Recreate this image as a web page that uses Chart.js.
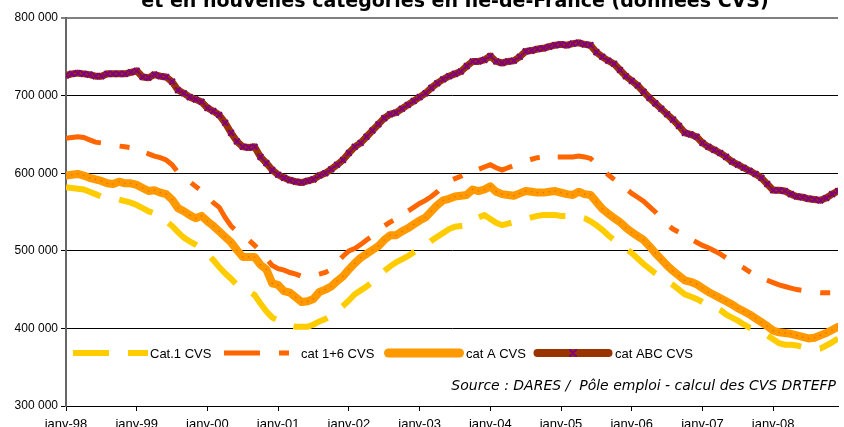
<!DOCTYPE html>
<html lang="fr">
<head>
<meta charset="utf-8">
<title>Demandeurs d'emploi en Ile-de-France</title>
<script src="https://cdn.jsdelivr.net/npm/chart.js@4.4.1/dist/chart.umd.min.js"></script>
<style>
  html, body { margin: 0; padding: 0; background: #fff; overflow: hidden; }
  canvas { display: block; }
</style>
</head>
<body>
<canvas id="myChart" width="844" height="427"></canvas>
<script>
// libellés de l'axe des x (un par an) et de l'axe des y
var anneesLabels = ['janv-98', 'janv-99', 'janv-00', 'janv-01', 'janv-02', 'janv-03',
                    'janv-04', 'janv-05', 'janv-06', 'janv-07', 'janv-08'];
var yLabels = ['300 000', '400 000', '500 000', '600 000', '700 000', '800 000'];
var nomsSeries = ['Cat.1 CVS', 'cat 1+6 CVS', 'cat A CVS', 'cat ABC CVS'];

// valeurs mensuelles en milliers, de janv-98 à déc-08
var cat1 = [
  582,581,580,579,576,573,570,568,567,566,564,562,
  559,555,551,548,543,538,532,524,517,512,508,503,
  496,488,479,471,464,456,452,448,443,432,422,414,
  410,406,404,402,402,402,405,409,412,416,423,429,
  436,444,449,454,460,467,474,480,485,489,493,498,
  502,507,513,518,523,528,531,532,533,538,543,546,
  541,536,533,535,537,539,541,543,545,546,546,546,
  545,545,546,544,542,538,533,527,520,514,508,503,
  497,490,483,477,471,466,461,456,450,444,441,438,
  434,431,428,424,418,414,410,405,401,399,396,391,
  386,381,379,379,378,376,374,373,374,378,382,387
];
var cat16 = [
  645,646,647,646,643,640,639,637,636,635,634,633,
  631,628,625,622,620,617,611,601,594,589,583,577,
  570,562,556,543,532,525,519,514,507,499,490,481,
  477,475,472,470,467,466,468,470,472,476,485,493,
  500,503,508,514,519,525,532,537,541,545,551,556,
  561,565,570,576,584,590,593,596,600,602,605,608,
  611,607,604,607,610,613,616,618,620,621,621,621,
  621,621,621,622,621,619,612,605,598,592,586,580,
  574,569,564,557,550,542,534,528,524,519,515,511,
  507,504,500,496,491,487,482,478,473,469,465,462,
  459,456,454,452,450,449,448,447,446,446,446,446
];
var catA = [
  597,598,599,597,594,592,590,587,586,589,587,587,
  585,581,577,578,575,573,566,555,551,546,542,545,
  538,532,525,518,511,501,492,492,492,482,476,458,
  456,448,446,440,434,435,438,447,450,454,461,467,
  476,484,491,496,501,506,514,520,520,525,529,534,
  539,543,551,559,565,567,570,571,572,579,577,579,
  583,576,573,572,571,574,577,576,575,575,576,577,
  575,573,572,576,573,572,563,554,548,542,537,530,
  524,519,514,506,497,489,481,474,468,462,460,457,
  452,447,443,439,435,431,426,422,418,413,408,403,
  397,395,394,393,391,389,387,388,391,394,398,402
];
var catABC = [
  726,728,729,728,727,725,725,728,728,728,728,730,
  732,724,723,727,725,724,718,707,703,698,695,692,
  684,680,675,665,652,641,634,633,634,621,613,604,
  598,594,591,589,588,590,592,597,600,605,611,617,
  626,634,639,647,655,663,671,676,678,683,688,693,
  698,703,710,716,721,725,728,731,738,744,744,746,
  751,744,742,744,745,750,757,758,760,761,763,765,
  766,765,767,768,766,765,756,750,745,741,733,725,
  719,713,705,697,690,683,676,669,661,652,650,647,
  639,634,630,626,621,615,611,607,603,599,594,586,
  578,578,577,573,570,569,567,566,565,568,573,577
];

var titre = "et en nouvelles catégories en Ile-de-France (données CVS)";
var source = "Source : DARES /  Pôle emploi - calcul des CVS DRTEFP";

// transforme une série en points {x: mois, y: valeur}
function versPoints(serie) {
  return serie.map((v, i) => ({ x: i, y: v }));
}

// titre (coupé en haut), légende dans la zone du graphique et source
const textesPlugin = {
  id: 'textes',
  afterDraw(chart) {
    var ctx = chart.ctx;
    ctx.save();
    ctx.fillStyle = '#000';

    ctx.font = 'bold 19px "DejaVu Sans"';
    ctx.textAlign = 'center';
    ctx.textBaseline = 'alphabetic';
    ctx.fillText(titre, 455, 7);

    // légende
    var legendeX = [73, 224, 384, 533];
    var legendeLong = [75, 75, 80, 80];
    var legendeY = 353;
    chart.data.datasets.forEach((ds, i) => {
      var x0 = legendeX[i];
      var x1 = x0 + legendeLong[i];
      var tirets = ds.borderDash || [];
      ctx.save();
      ctx.strokeStyle = ds.borderColor;
      ctx.beginPath();
      if (tirets.length) {
        ctx.lineWidth = ds.borderWidth;
        ctx.setLineDash(tirets);
        ctx.lineCap = 'butt';
        ctx.moveTo(x0, legendeY);
        ctx.lineTo(x1, legendeY);
      } else {
        ctx.lineWidth = ds.borderWidth + 1;
        ctx.lineCap = 'round';
        ctx.moveTo(x0 + 4.5, legendeY);
        ctx.lineTo(x1 - 4.5, legendeY);
      }
      ctx.stroke();
      if (ds.pointStyle === 'crossRot') {
        var cx = (x0 + x1) / 2;
        ctx.strokeStyle = ds.pointBorderColor;
        ctx.lineWidth = 2;
        ctx.setLineDash([]);
        ctx.beginPath();
        ctx.moveTo(cx - 3, legendeY - 3); ctx.lineTo(cx + 3, legendeY + 3);
        ctx.moveTo(cx - 3, legendeY + 3); ctx.lineTo(cx + 3, legendeY - 3);
        ctx.stroke();
      }
      ctx.restore();
      ctx.font = '13px "Liberation Sans"';
      ctx.textAlign = 'left';
      ctx.textBaseline = 'middle';
      ctx.fillText(ds.label, x1 + 2, legendeY + 1);
    });

    ctx.font = 'italic 14px "DejaVu Sans"';
    ctx.textAlign = 'right';
    ctx.textBaseline = 'middle';
    ctx.fillText(source, 836, 386);
    ctx.restore();
  }
};

const data = {
  datasets: [
    {
      label: nomsSeries[0],
      data: versPoints(cat1),
      borderColor: '#FFCC00',
      borderWidth: 6,
      borderDash: [36, 19],
      borderCapStyle: 'butt',
      pointRadius: 0
    },
    {
      label: nomsSeries[1],
      data: versPoints(cat16),
      borderColor: '#FF6600',
      borderWidth: 5,
      borderDash: [36, 19, 10, 18],
      borderCapStyle: 'butt',
      pointRadius: 0
    },
    {
      label: nomsSeries[2],
      data: versPoints(catA),
      borderColor: '#FF9900',
      borderWidth: 8,
      borderJoinStyle: 'round',
      borderCapStyle: 'round',
      pointRadius: 0.8,
      pointBorderWidth: 0,
      pointBackgroundColor: '#F26A00'
    },
    {
      label: nomsSeries[3],
      data: versPoints(catABC),
      borderColor: '#993300',
      borderWidth: 7,
      borderJoinStyle: 'round',
      borderCapStyle: 'round',
      pointStyle: 'crossRot',
      pointRadius: 4,
      pointBorderWidth: 2,
      pointBorderColor: '#800080',
      pointBackgroundColor: '#800080'
    }
  ]
};

const config = {
  type: 'line',
  data: data,
  options: {
    responsive: false,
    animation: false,
    events: [],
    layout: { padding: { top: 18, right: 0, bottom: 0, left: 0 } },
    plugins: {
      legend: { display: false },
      title: { display: false },
      tooltip: { enabled: false }
    },
    scales: {
      x: {
        type: 'linear',
        min: 0,
        max: cat1.length - 1,
        afterFit: (scale) => { scale.height = 21; },
        ticks: {
          stepSize: 12,
          includeBounds: false,
          autoSkip: false,
          maxRotation: 0,
          padding: 6,
          color: '#000',
          font: { family: 'Liberation Sans', size: 13 },
          callback: (v) => anneesLabels[v / 12]
        },
        grid: { drawOnChartArea: false, drawTicks: true, tickLength: 5, color: '#000' },
        border: { color: '#000', width: 1 }
      },
      y: {
        min: 300,
        max: 800,
        afterFit: (scale) => { scale.width = 66; },
        ticks: {
          stepSize: 100,
          padding: 3,
          color: '#000',
          font: { family: 'Liberation Sans', size: 12 },
          callback: (v) => yLabels[(v - 300) / 100]
        },
        grid: {
          color: (c) => (c.tick && c.tick.value === 800 ? '#808080' : '#000'),
          lineWidth: (c) => (c.tick && c.tick.value === 800 ? 2 : 1),
          tickLength: 5
        },
        border: { color: '#666', width: 2 }
      }
    }
  },
  plugins: [textesPlugin]
};

var myChart = new Chart(document.getElementById('myChart'), config);
</script>
</body>
</html>
